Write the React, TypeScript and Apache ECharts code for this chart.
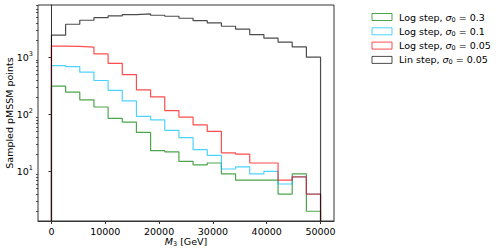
import React, { useEffect, useRef } from "react";
import * as echarts from "echarts";

// ---- data ----
const xMax = 50000;
const binCount = 19;
const seriesNames = ["Log step, σ0 = 0.3", "Log step, σ0 = 0.1", "Log step, σ0 = 0.05", "Lin step, σ0 = 0.05"];
const sigmaLabels = ["0.3", "0.1", "0.05", "0.05"];
const stepKinds = ["Log step, ", "Log step, ", "Log step, ", "Lin step, "];
const logStep03 = [311, 244, 179, 134, 85, 73, 48, 23, 22, 15, 13, 14, 9, 7, 7, 7, 4, 9, 2];
const logStep01 = [713, 685, 547, 390, 263, 171, 92, 80, 52, 39, 24, 19, 11, 12, 9, 10, 6, 8, 4];
const logStep005 = [1560, 1540, 1500, 1142, 779, 496, 268, 202, 116, 89, 65, 50, 21, 20, 14, 14, 7, 8, 4];
const linStep005 = [2425, 3776, 4434, 4924, 5272, 5556, 5714, 5422, 5212, 4808, 4364, 3979, 3483, 3089, 2484, 2148, 1829, 1514, 1000];
const xTicks = [0, 10000, 20000, 30000, 40000, 50000];
const yTicks = [10, 100, 1000];
const colors = ["#008000", "#00bfff", "#ff0000", "#000000"];

const allSeries = [logStep03, logStep01, logStep005, linStep005];

function stepData(vals: number[]) {
  const w = xMax / binCount;
  const pts: number[][] = [[0, 1]];
  for (let i = 0; i <= binCount; i++) {
    pts.push([i * w, vals[Math.min(i, binCount - 1)]]);
  }
  pts.push([xMax, 1]);
  return pts;
}

const minorTicks: number[] = [];
for (const d of [1, 10, 100, 1000]) {
  for (let k = 2; k <= 9; k++) minorTicks.push(k * d);
}

const FONT = "DejaVu Sans";

export default function App() {
  const ref = useRef<HTMLDivElement>(null);
  useEffect(() => {
    if (!ref.current) return;
    const chart = echarts.init(ref.current, undefined, { renderer: "svg" });
    const gridL = 38, gridT = 5, gridW = 296, gridH = 216;
    const legendX = 372, legendY = 17, legendDy = 14.3;
    const legendItems: any[] = [];
    seriesNames.forEach((_, i) => {
      legendItems.push({
        type: "rect",
        shape: { x: legendX, y: legendY + i * legendDy - 3.5, width: 20, height: 7 },
        style: { fill: "#fff", stroke: colors[i], lineWidth: 1, opacity: 0.7 },
      });
      legendItems.push({
        type: "text",
        x: legendX + 27,
        y: legendY + i * legendDy,
        style: {
          text: `{a|${stepKinds[i]}}{i|σ}{s|0}{a| = ${sigmaLabels[i]}}`,
          verticalAlign: "middle",
          rich: {
            a: { fontFamily: FONT, fontSize: 9.5, fill: "#000" },
            i: { fontFamily: FONT, fontSize: 9.5, fontStyle: "italic", fill: "#000" },
            s: { fontFamily: FONT, fontSize: 6.5, fill: "#000", padding: [5, 0, 0, 0] },
          },
        },
      });
    });
    chart.setOption({
      animation: false,
      backgroundColor: "#fff",
      grid: { left: gridL, top: gridT, width: gridW, height: gridH, show: true, borderColor: "#333", borderWidth: 1, backgroundColor: "transparent", containLabel: false, outerBoundsMode: "none" },
      xAxis: {
        type: "value",
        min: -2500,
        max: 52500,
        axisLine: { show: true, onZero: false, lineStyle: { color: "#333", width: 1 } },
        axisTick: { show: true, length: 3, customValues: xTicks, lineStyle: { color: "#333" } },
        axisLabel: { customValues: xTicks, margin: 5, fontFamily: FONT, fontSize: 9.5, color: "#000", formatter: (v: number) => String(v) },
        splitLine: { show: false },
      },
      yAxis: [
        {
          type: "log",
          logBase: 10,
          min: 1.35,
          max: 8200,
          axisLine: { show: true, lineStyle: { color: "#333", width: 1 } },
          axisTick: { show: true, length: 3, customValues: yTicks, lineStyle: { color: "#333" } },
          axisLabel: {
            customValues: yTicks,
            margin: 5,
            formatter: (v: number) => `{b|10}{s|${Math.round(Math.log10(v))}}`,
            rich: {
              b: { fontFamily: FONT, fontSize: 9.5, color: "#000" },
              s: { fontFamily: FONT, fontSize: 6.5, color: "#000", padding: [0, 0, 6, 0] },
            },
          },
          splitLine: { show: false },
        },
        {
          type: "log",
          logBase: 10,
          min: 1.35,
          max: 8200,
          position: "left",
          axisLine: { show: false },
          axisTick: { show: true, length: 1.8, customValues: minorTicks, lineStyle: { color: "#333" } },
          axisLabel: { show: false },
          splitLine: { show: false },
        },
      ],
      graphic: [
        {
          type: "text",
          x: 9.5,
          y: gridT + gridH / 2,
          rotation: Math.PI / 2,
          style: {
            text: "Sampled pMSSM points",
            align: "center",
            verticalAlign: "middle",
            fontFamily: FONT,
            fontSize: 9.5,
            fill: "#000",
          },
        },
        {
          type: "text",
          x: gridL + gridW / 2,
          y: 241.5,
          style: {
            text: "{i|M}{s|3}{a| [GeV]}",
            align: "center",
            verticalAlign: "middle",
            rich: {
              a: { fontFamily: FONT, fontSize: 9.5, fill: "#000" },
              i: { fontFamily: FONT, fontSize: 9.5, fontStyle: "italic", fill: "#000" },
              s: { fontFamily: FONT, fontSize: 6.5, fill: "#000", padding: [5, 0, 0, 0] },
            },
          },
        },
        ...legendItems,
      ],
      series: allSeries.map((vals, i) => ({
        type: "line",
        name: seriesNames[i],
        step: "end",
        symbol: "none",
        clip: true,
        data: stepData(vals),
        lineStyle: { color: colors[i], width: 1.2, opacity: 0.7 },
        itemStyle: { color: colors[i] },
        z: 2 + i,
      })),
    });
    return () => chart.dispose();
  }, []);
  return <div ref={ref} style={{ position: "fixed", left: 0, top: 0, width: 499, height: 252, background: "#fff" }} />;
}
